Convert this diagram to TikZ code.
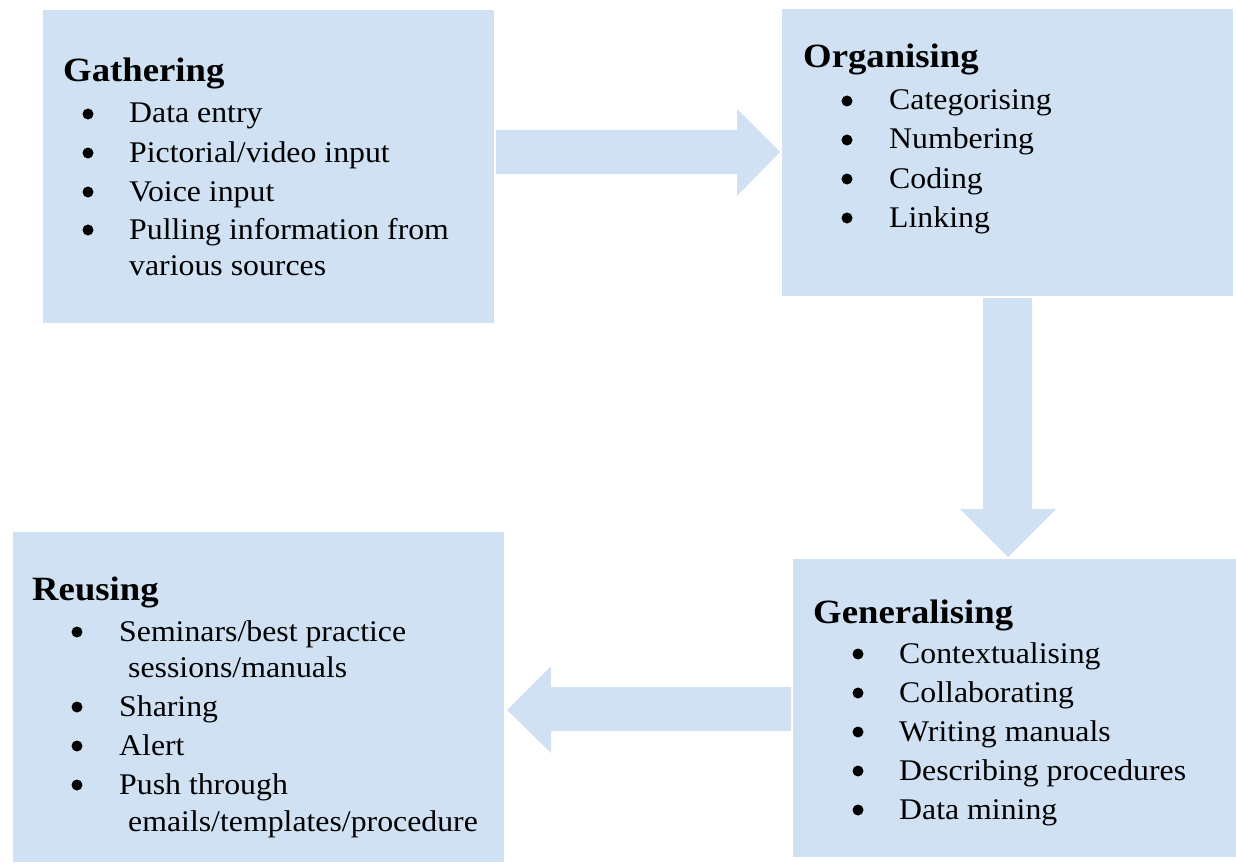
\documentclass[tikz,border=0pt]{standalone}
\usepackage{fontspec}
\setmainfont{Liberation Serif}
\newfontfamily\bodyfont[FakeStretch=1.06]{Liberation Serif}
\newfontfamily\headfont[FakeStretch=1.08]{Liberation Serif}
\definecolor{boxblue}{RGB}{207,225,242}
\begin{document}
\begin{tikzpicture}[x=1pt,y=-1pt,
  boxst/.style={fill=boxblue, draw=none, anchor=north west, inner sep=0pt},
  head/.style={anchor=base west, inner sep=0pt, font=\headfont\fontsize{34}{40}\selectfont\bfseries},
  itm/.style={anchor=base west, inner sep=0pt, font=\bodyfont\fontsize{30}{36}\selectfont},
  blt/.style={circle, fill=black, inner sep=0pt, minimum size=11pt},
  arr/.style={fill=boxblue, draw=none}]
\useasboundingbox (0,0) rectangle (1236,864);
% boxes
\node[boxst, minimum width=451pt, minimum height=313pt] (gath) at (43,10) {};
\node[boxst, minimum width=451pt, minimum height=287pt] (org) at (782,9) {};
\node[boxst, minimum width=443pt, minimum height=298pt] (gen) at (793,559) {};
\node[boxst, minimum width=491pt, minimum height=330pt] (reu) at (13,532) {};
% arrows
\fill[arr] (496,130) -- (737,130) -- (737,109) -- (780,152) -- (737,196) -- (737,174) -- (496,174) -- cycle;
\fill[arr] (983,298) -- (983,509) -- (960,509) -- (1008,557) -- (1056,509) -- (1032,509) -- (1032,298) -- cycle;
\fill[arr] (791,687) -- (551,687) -- (551,666) -- (507,710) -- (551,753) -- (551,731) -- (791,731) -- cycle;
% Gathering
\node[head] (gh) at (63,82) {Gathering};
\node[blt] (gb1) at (88,114) {}; \node[itm] (g1) at (129,123) {Data entry};
\node[blt] (gb2) at (88,153) {}; \node[itm] (g2) at (129,162) {Pictorial/video input};
\node[blt] (gb3) at (88,192) {}; \node[itm] (g3) at (129,201) {Voice input};
\node[blt] (gb4) at (88,230) {}; \node[itm] (g4) at (129,239) {Pulling information from};
\node[itm] (g5) at (129,275) {various sources};
% Organising
\node[head] (oh) at (803,68) {Organising};
\node[blt] (ob1) at (847,101) {}; \node[itm] (o1) at (889,110) {Categorising};
\node[blt] (ob2) at (847,140) {}; \node[itm] (o2) at (889,149) {Numbering};
\node[blt] (ob3) at (847,179) {}; \node[itm] (o3) at (889,188) {Coding};
\node[blt] (ob4) at (847,218) {}; \node[itm] (o4) at (889,227) {Linking};
% Generalising
\node[head] (nh) at (813,623) {Generalising};
\node[blt] (nb1) at (858,654) {}; \node[itm] (n1) at (899,663) {Contextualising};
\node[blt] (nb2) at (858,693) {}; \node[itm] (n2) at (899,702) {Collaborating};
\node[blt] (nb3) at (858,732) {}; \node[itm] (n3) at (899,741) {Writing manuals};
\node[blt] (nb4) at (858,771) {}; \node[itm] (n4) at (899,780) {Describing procedures};
\node[blt] (nb5) at (858,810) {}; \node[itm] (n5) at (899,819) {Data mining};
% Reusing
\node[head] (rh) at (32,600) {Reusing};
\node[blt] (rb1) at (77,632) {}; \node[itm] (r1) at (119,641) {Seminars/best practice};
\node[itm] (r2) at (128,677) {sessions/manuals};
\node[blt] (rb3) at (77,707) {}; \node[itm] (r3) at (119,716) {Sharing};
\node[blt] (rb4) at (77,746) {}; \node[itm] (r4) at (119,755) {Alert};
\node[blt] (rb5) at (77,785) {}; \node[itm] (r5) at (119,794) {Push through};
\node[itm] (r6) at (128,831) {emails/templates/procedure};
\end{tikzpicture}
\end{document}
